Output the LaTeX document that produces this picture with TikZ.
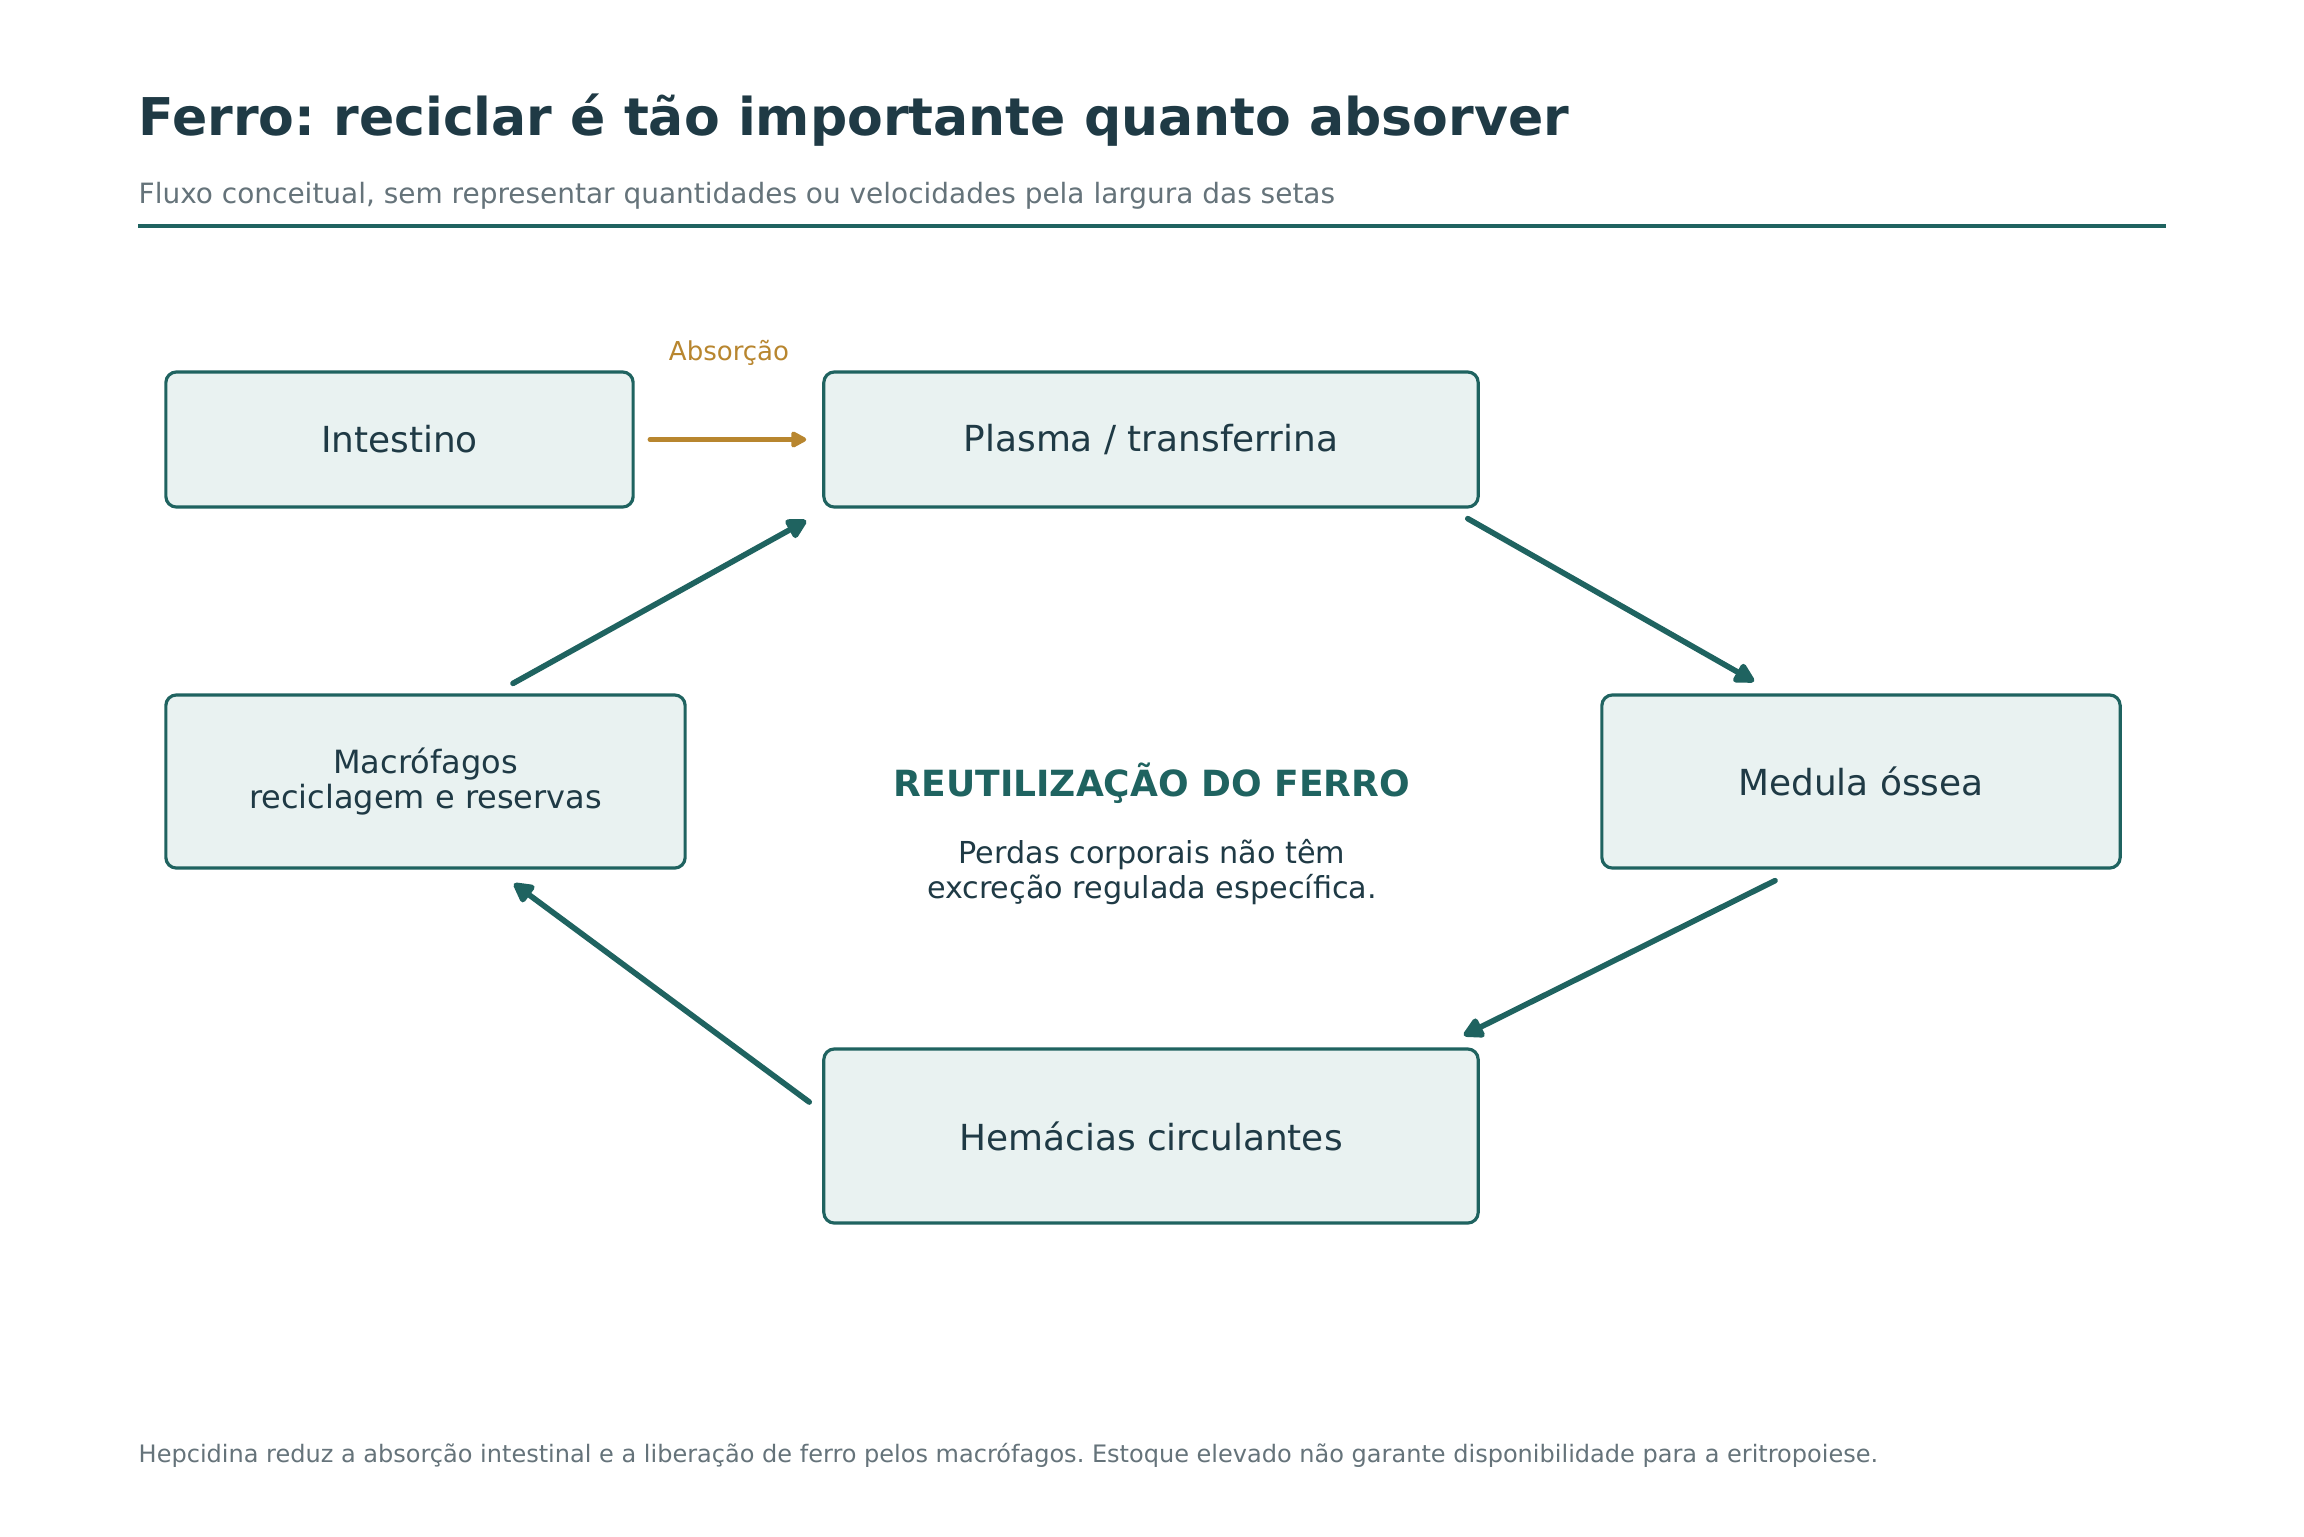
\documentclass[tikz,border=0pt]{standalone}
\usepackage{fontspec}
\setmainfont{DejaVu Sans}
\usepackage{tikz}
\usetikzlibrary{arrows.meta, calc, positioning}
\usepackage{xcolor}
\frenchspacing

\definecolor{inkdark}{HTML}{1F3A45}
\definecolor{tealdark}{HTML}{1F6360}
\definecolor{greytext}{HTML}{65737A}
\definecolor{boxfill}{HTML}{E9F2F1}
\definecolor{ochre}{HTML}{B8862F}

\begin{document}
\begin{tikzpicture}[x=0.01cm, y=-0.01cm,
  organ/.style={draw=tealdark, line width=0.9pt, fill=boxfill, rounded corners=3pt,
    text=inkdark, align=center, inner sep=0pt},
  flow/.style={draw=tealdark, line width=1.6pt, line cap=round,
    -{Triangle[length=6.5pt, width=6.5pt, round]}},
  absorb/.style={draw=ochre, line width=1.2pt, line cap=round,
    -{Triangle[length=5pt, width=5pt, round]}}]

  \path[fill=white, use as bounding box] (0,0) rectangle (2304,1536);

  % heading
  \node[anchor=base west, inner sep=0pt, text=inkdark, font=\fontsize{14.8}{18}\selectfont\bfseries] (title) at (138,135)
    {Ferro: reciclar é tão importante quanto absorver};
  \node[anchor=base west, inner sep=0pt, text=greytext, font=\fontsize{7.95}{10}\selectfont] (subtitle) at (138,203)
    {Fluxo conceitual, sem representar quantidades ou velocidades pela largura das setas};
  \draw[tealdark, line width=1pt] (138,226) -- (2166,226);

  % compartments
  \node[organ, minimum width=4.67cm, minimum height=1.35cm, font=\fontsize{10.2}{12}\selectfont] (intestino) at (399.5,439.5) {Intestino};
  \node[organ, minimum width=6.54cm, minimum height=1.35cm, font=\fontsize{10.2}{12}\selectfont] (plasma) at (1151,439.5) {Plasma / transferrina};
  \node[organ, minimum width=5.19cm, minimum height=1.73cm, font=\fontsize{9.1}{10}\selectfont] (macro) at (425.5,781.5) {Macrófagos\\reciclagem e reservas};
  \node[organ, minimum width=5.18cm, minimum height=1.73cm, font=\fontsize{10.2}{12}\selectfont] (medula) at (1861,781.5) {Medula óssea};
  \node[organ, minimum width=6.54cm, minimum height=1.74cm, font=\fontsize{10.2}{12}\selectfont] (hemacias) at (1151,1136) {Hemácias circulantes};

  % centre note
  \node[anchor=base, inner sep=0pt, text=tealdark, font=\fontsize{10.25}{12}\selectfont\bfseries] (reuse) at (1152,796) {REUTILIZAÇÃO DO FERRO};
  \node[inner sep=0pt, text=inkdark, align=center, font=\fontsize{8.6}{10}\selectfont] (losses) at (1152,872)
    {Perdas corporais não têm\\excreção regulada específica.};

  % absorption
  \draw[absorb] ($(intestino.east)+(15,0)$) -- ($(plasma.west)+(-16,0)$);
  \node[anchor=base, inner sep=0pt, text=ochre, font=\fontsize{7.4}{9}\selectfont] (absorcao) at (729,360) {Absorção};

  % recycling loop
  \draw[flow] ($(macro.north)+(87.5,-10)$) -- ($(plasma.south west)+(-16,12)$);
  \draw[flow] ($(plasma.south east)+(-12,10)$) -- ($(medula.north)+(-107,-12)$);
  \draw[flow] ($(medula.south)+(-86,11)$) -- ($(hemacias.north east)+(-16,-12)$);
  \draw[flow] ($(hemacias.west)+(-13,-34)$) -- ($(macro.south)+(88.5,14)$);

  % footnote
  \node[anchor=base west, inner sep=0pt, text=greytext, font=\fontsize{6.83}{8}\selectfont] (footnote) at (138,1462)
    {Hepcidina reduz a absorção intestinal e a liberação de ferro pelos macrófagos. Estoque elevado não garante disponibilidade para a eritropoiese.};
\end{tikzpicture}
\end{document}
